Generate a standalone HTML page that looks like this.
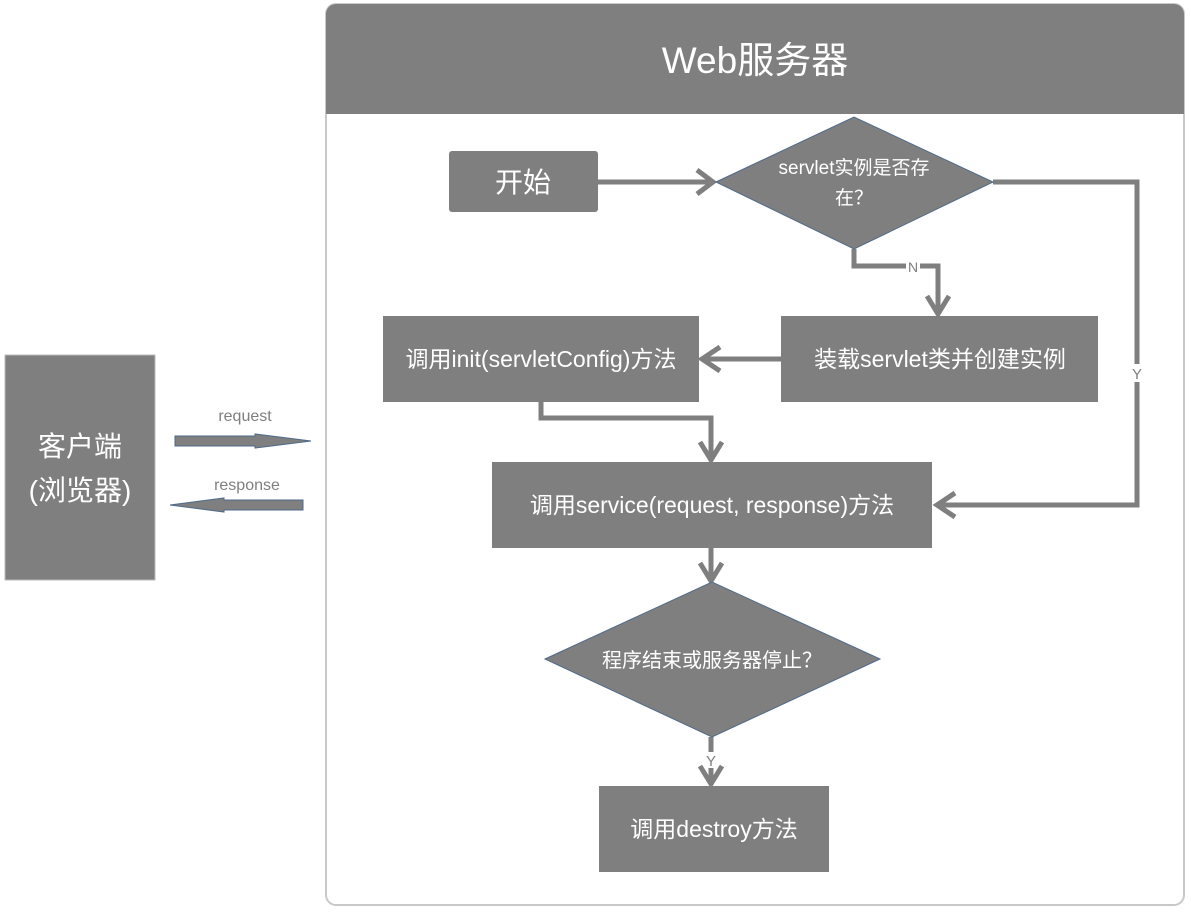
<!DOCTYPE html>
<html><head><meta charset="utf-8"><style>
html,body{margin:0;padding:0;background:#fff;}
svg{display:block;}
text{font-family:"Liberation Sans","Noto Sans CJK SC",sans-serif;fill:#fff;}
</style></head><body>
<svg width="1191" height="914" viewBox="0 0 1191 914" xmlns="http://www.w3.org/2000/svg">
<defs>
<marker id="ah" markerWidth="8" markerHeight="8" refX="6" refY="4" orient="auto" markerUnits="userSpaceOnUse" viewBox="0 0 8 8">
</marker>
</defs>
<!-- container -->
<rect x="326" y="4" width="858" height="901" rx="10" fill="#fff" stroke="#c8c8c8" stroke-width="2"/>
<path d="M326 114 V14 a10 10 0 0 1 10 -10 H1174 a10 10 0 0 1 10 10 V114 Z" fill="#7f7f7f"/>
<text x="755" y="73" font-size="37" text-anchor="middle">Web服务器</text>

<!-- client -->
<rect x="5" y="355" width="150" height="225" fill="#7f7f7f" stroke="#bbb" stroke-width="1"/>
<text x="80" y="456" font-size="28" text-anchor="middle">客户端</text>
<text x="80" y="500" font-size="28" text-anchor="middle">(浏览器)</text>
<text x="245" y="421" font-size="16" text-anchor="middle" style="fill:#7f7f7f">request</text>
<text x="247" y="490" font-size="16" text-anchor="middle" style="fill:#7f7f7f">response</text>
<polygon points="175,436 255,436 255,434 311,441 255,448 255,446 175,446" fill="#7f7f7f" stroke="#4f6a8a" stroke-width="1"/>
<polygon points="303,500 224,500 224,498 170,505 224,512 224,510 303,510" fill="#7f7f7f" stroke="#4f6a8a" stroke-width="1"/>

<g stroke="#7f7f7f" stroke-width="5" fill="none" stroke-linejoin="miter">
<!-- start to diamond -->
<path d="M598 182 H712"/><path d="M697 170 L713 182 L697 194"/>
<!-- N -->
<path d="M854 249 V266 H938 V313"/><path d="M927 296 L938 314 L949 296"/>
<!-- Y right -->
<path d="M993 182 H1137 V505 H938"/><path d="M955 493 L937 505 L955 517"/>
<!-- 装载 to init -->
<path d="M781 359 H703"/><path d="M720 347 L702 359 L720 371"/>
<!-- init to service -->
<path d="M541 402 V418 H711 V459"/><path d="M700 442 L711 460 L722 442"/>
<!-- service to diamond2 -->
<path d="M711 548 V580"/><path d="M700 563 L711 581 L722 563"/>
<!-- diamond2 to destroy -->
<path d="M711 737 V783"/><path d="M700 766 L711 784 L722 766"/>
</g>
<rect x="1130" y="364" width="14" height="18" fill="#fff"/>
<text x="1137" y="379" font-size="15" text-anchor="middle" style="fill:#7f7f7f">Y</text>
<rect x="906" y="259" width="14" height="15" fill="#fff"/>
<text x="913" y="272" font-size="14" text-anchor="middle" style="fill:#7f7f7f">N</text>
<rect x="704" y="752" width="14" height="16" fill="#fff"/>
<text x="711" y="766" font-size="15" text-anchor="middle" style="fill:#7f7f7f">Y</text>

<!-- nodes -->
<rect x="449" y="151" width="149" height="61" rx="3" fill="#7f7f7f"/>
<text x="523" y="192" font-size="28" text-anchor="middle">开始</text>

<polygon points="716,182 854,117 993,182 854,249" fill="#7f7f7f" stroke="#4f6a8a" stroke-width="1"/>
<text x="854" y="174" font-size="19" text-anchor="middle">servlet实例是否存</text>
<text x="854" y="204" font-size="19" text-anchor="middle">在？</text>

<rect x="781" y="316" width="317" height="86" fill="#7f7f7f"/>
<text x="940" y="367" font-size="23" text-anchor="middle">装载servlet类并创建实例</text>

<rect x="383" y="316" width="316" height="86" fill="#7f7f7f"/>
<text x="541" y="367" font-size="23" text-anchor="middle">调用init(servletConfig)方法</text>

<rect x="492" y="462" width="440" height="86" fill="#7f7f7f"/>
<text x="712" y="513" font-size="23" text-anchor="middle">调用service(request, response)方法</text>

<polygon points="545,659 712,582 880,659 712,737" fill="#7f7f7f" stroke="#4f6a8a" stroke-width="1"/>
<text x="712" y="667" font-size="20" text-anchor="middle">程序结束或服务器停止？</text>

<rect x="599" y="786" width="230" height="86" fill="#7f7f7f"/>
<text x="714" y="837" font-size="23" text-anchor="middle">调用destroy方法</text>
</svg>
</body></html>
